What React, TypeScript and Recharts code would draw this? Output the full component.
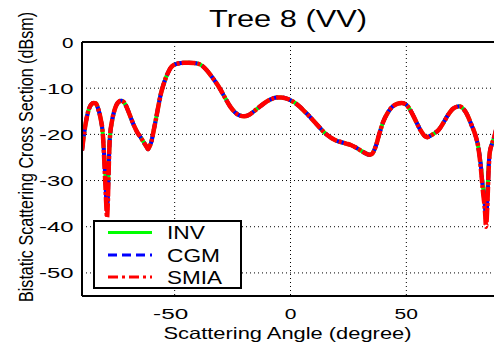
import React from 'react';
import { LineChart, Line, XAxis, YAxis, CartesianGrid, ReferenceLine, Legend } from 'recharts';

const FONT = '"Liberation Sans", Arial, Helvetica, sans-serif';

// Scattering angle samples (degree)
const angles = [
  -90, -89, -88, -87, -86, -85, -84, -83, -82, -81, -80.5, -80, -79.5, -79.2, -78.8, -78.5, -78,
  -77, -76, -75, -74, -73, -72, -71, -70, -69, -68, -67, -66, -65, -64, -63, -62, -61.5, -61,
  -60, -59, -58, -57, -56, -55, -54, -53, -52, -51, -50, -48, -46, -44, -42, -40, -38, -36, -34,
  -32, -30, -28, -26, -24, -22, -20, -18, -16, -14, -12, -10, -8, -6, -4, -2, 0, 2, 4, 6, 8, 10,
  12, 14, 16, 18, 20, 22, 24, 26, 28, 30, 32, 34, 35, 36, 37, 38, 39, 40, 42, 44, 46, 48, 50, 52,
  54, 56, 58, 59, 60, 62, 64, 66, 68, 70, 72, 73, 74, 76, 78, 80, 81, 82, 83, 84, 84.4, 85, 85.5,
  86, 87, 88, 89, 90,
];

// Bistatic scattering cross section (dBsm) per method
const invValues = [
  -23.5, -19.5, -16.5, -14.5, -13.5, -13.2, -13.3, -14.5, -16.5, -20, -24, -28, -33, -35, -32, -27, -21,
  -17, -14.8, -13.5, -12.9, -12.7, -13.0, -13.8, -15, -16.3, -17.6, -18.7, -19.7, -20.4, -21.2, -22, -22.8, -23.2, -22.8,
  -21.5, -19, -16.5, -13.8, -11.3, -9.5, -8, -6.8, -5.8, -5.2, -4.9, -4.6, -4.5, -4.5, -4.55, -4.7, -5.2, -6.2, -7.5,
  -8.9, -10.5, -12.3, -14.0, -15.2, -15.9, -16.1, -15.8, -15.1, -14.3, -13.5, -12.8, -12.3, -12.0, -12.0, -12.2, -12.6, -13.2, -14.0, -15.0, -16.0, -17.1,
  -18.2, -19.3, -20.2, -20.9, -21.4, -21.7, -22.0, -22.3, -22.8, -23.4, -24.0, -24.4, -24.3, -23.6, -22.3, -20.5, -18.8, -17.3, -15.3, -14.0, -13.4, -13.2, -13.6, -15.0,
  -17.0, -19.0, -20.4, -20.6, -20.4, -19.8, -19.0, -17.5, -15.8, -14.5, -14.0, -13.9, -14.2, -15.5, -17.8, -20.5, -22.6, -26, -31, -35, -37, -33, -27,
  -24, -22, -20.5, -18.5, -17,
];

const cgmValues = [
  -23.5, -19.5, -16.5, -14.5, -13.5, -13.2, -13.3, -14.5, -16.5, -20, -24, -29, -34.5, -36.5, -33, -27.5, -21,
  -17, -14.8, -13.5, -12.9, -12.7, -13.0, -13.8, -15, -16.3, -17.6, -18.7, -19.7, -20.4, -21.2, -22, -22.8, -23.2, -22.8,
  -21.5, -19, -16.5, -13.8, -11.3, -9.5, -8, -6.8, -5.8, -5.2, -4.9, -4.6, -4.5, -4.5, -4.55, -4.7, -5.2, -6.2, -7.5,
  -8.9, -10.5, -12.3, -14.0, -15.2, -15.9, -16.1, -15.8, -15.1, -14.3, -13.5, -12.8, -12.3, -12.0, -12.0, -12.2, -12.6, -13.2, -14.0, -15.0, -16.0, -17.1,
  -18.2, -19.3, -20.2, -20.9, -21.4, -21.7, -22.0, -22.3, -22.8, -23.4, -24.0, -24.4, -24.3, -23.6, -22.3, -20.5, -18.8, -17.3, -15.3, -14.0, -13.4, -13.2, -13.6, -15.0,
  -17.0, -19.0, -20.4, -20.6, -20.4, -19.8, -19.0, -17.5, -15.8, -14.5, -14.0, -13.9, -14.2, -15.5, -17.8, -20.5, -22.6, -26, -31.5, -36, -38.5, -34, -27.5,
  -24, -22, -20.5, -18.5, -17,
];

const smiaValues = [
  -23.5, -19.5, -16.5, -14.5, -13.5, -13.2, -13.3, -14.5, -16.5, -20, -24.5, -30, -35.5, -38, -34, -28, -21,
  -17, -14.8, -13.5, -12.9, -12.7, -13.0, -13.8, -15, -16.3, -17.6, -18.7, -19.7, -20.4, -21.2, -22, -22.8, -23.2, -22.8,
  -21.5, -19, -16.5, -13.8, -11.3, -9.5, -8, -6.8, -5.8, -5.2, -4.9, -4.6, -4.5, -4.5, -4.55, -4.7, -5.2, -6.2, -7.5,
  -8.9, -10.5, -12.3, -14.0, -15.2, -15.9, -16.1, -15.8, -15.1, -14.3, -13.5, -12.8, -12.3, -12.0, -12.0, -12.2, -12.6, -13.2, -14.0, -15.0, -16.0, -17.1,
  -18.2, -19.3, -20.2, -20.9, -21.4, -21.7, -22.0, -22.3, -22.8, -23.4, -24.0, -24.4, -24.3, -23.6, -22.3, -20.5, -18.8, -17.3, -15.3, -14.0, -13.4, -13.2, -13.6, -15.0,
  -17.0, -19.0, -20.4, -20.6, -20.4, -19.8, -19.0, -17.5, -15.8, -14.5, -14.0, -13.9, -14.2, -15.5, -17.8, -20.5, -22.6, -26.5, -32, -37, -40, -35, -28,
  -24, -22, -20.5, -18.5, -17,
];

const xTicks = [-50, 0, 50];
const yTicks = [0, -10, -20, -30, -40, -50];

const series = [
  { key: 'inv', name: 'INV', color: '#00ff00', width: 4, dash: undefined as string | undefined, legendDash: undefined as string | undefined },
  { key: 'cgm', name: 'CGM', color: '#0000ff', width: 4, dash: '9 5', legendDash: '9 5' },
  { key: 'smia', name: 'SMIA', color: '#ff0000', width: 4.5, dash: '14 2 3 2', legendDash: '10 4 3 4' },
];

const rows = angles.map((a, i) => ({
  angle: a,
  inv: invValues[i],
  cgm: cgmValues[i],
  smia: smiaValues[i],
}));

const XTick = (props: any) => {
  const { x, payload } = props;
  const label = String(payload.value);
  const shift = payload.value < 0 ? -4 : 0;
  return (
    <text
      x={x + shift}
      y={318.5}
      textAnchor="middle"
      fontFamily={FONT}
      fontSize={15.5}
      fill="#000"
      textLength={label.length * 11.7}
      lengthAdjust="spacingAndGlyphs"
    >
      {label}
    </text>
  );
};

const YTick = (props: any) => {
  const { y, payload } = props;
  const label = String(payload.value);
  return (
    <text
      x={73.5}
      y={y + 5.5}
      textAnchor="end"
      fontFamily={FONT}
      fontSize={15.5}
      fill="#000"
      textLength={label.length * 11.5}
      lengthAdjust="spacingAndGlyphs"
    >
      {label}
    </text>
  );
};

const XTitle = () => (
  <text
    x={163.5}
    y={339}
    fontFamily={FONT}
    fontSize={16.5}
    fill="#000"
    textLength={248}
    lengthAdjust="spacingAndGlyphs"
  >
    Scattering Angle (degree)
  </text>
);

const YTitle = () => (
  <text
    transform="translate(33,157) scale(1.3,1) rotate(-90)"
    textAnchor="middle"
    fontFamily={FONT}
    fontSize={16}
    fill="#000"
    textLength={290}
    lengthAdjust="spacingAndGlyphs"
  >
    Bistatic Scattering Cross Section (dBsm)
  </text>
);

const rowCenters = [12.5, 35, 57];
const legendTextWidths = [38, 53, 55];

const LegendBox = () => (
  <svg width={149} height={69} style={{ display: 'block' }}>
    <rect x={1} y={1} width={147} height={67} fill="#fff" stroke="#000" strokeWidth={2} />
    {series.map((s, i) => (
      <g key={s.key}>
        <line
          x1={15}
          x2={59}
          y1={rowCenters[i]}
          y2={rowCenters[i]}
          stroke={s.color}
          strokeWidth={3}
          strokeDasharray={s.legendDash}
        />
        <text
          x={74}
          y={rowCenters[i] + 6.5}
          fontFamily={FONT}
          fontSize={18}
          fill="#000"
          textLength={legendTextWidths[i]}
          lengthAdjust="spacingAndGlyphs"
        >
          {s.name}
        </text>
      </g>
    ))}
  </svg>
);

export default function App() {
  return (
    <div
      style={{
        position: 'absolute',
        left: 0,
        top: 0,
        width: 494,
        height: 347,
        overflow: 'hidden',
        background: '#fff',
      }}
    >
      <LineChart
        width={510}
        height={347}
        data={rows}
        margin={{ top: 42, right: 11, bottom: 21, left: 42 }}
      >
        <CartesianGrid stroke="#000" strokeDasharray="1 3" strokeWidth={1} />
        <XAxis
          dataKey="angle"
          type="number"
          domain={[-90, 90]}
          ticks={xTicks}
          allowDataOverflow
          height={30}
          tickLine={false}
          axisLine={{ stroke: '#000', strokeWidth: 2 }}
          tick={<XTick />}
          label={<XTitle />}
        />
        <YAxis
          type="number"
          domain={[-55, 0]}
          ticks={yTicks}
          allowDataOverflow
          width={40}
          tickLine={false}
          axisLine={{ stroke: '#000', strokeWidth: 2 }}
          tick={<YTick />}
          label={<YTitle />}
        />
        <ReferenceLine y={0} stroke="#000" strokeWidth={2} />
        {series.map((s) => (
          <Line
            key={s.key}
            dataKey={s.key}
            name={s.name}
            type="monotone"
            stroke={s.color}
            strokeWidth={s.width}
            strokeDasharray={s.dash}
            dot={false}
            isAnimationActive={false}
          />
        ))}
        <Legend
          layout="horizontal"
          verticalAlign="middle"
          align="center"
          content={<LegendBox />}
          wrapperStyle={{ left: 93, top: 220, width: 149, height: 69 }}
        />
      </LineChart>
      <svg
        width={494}
        height={40}
        style={{ position: 'absolute', left: 0, top: 0, pointerEvents: 'none' }}
      >
        <text
          x={209}
          y={27}
          fontFamily={FONT}
          fontSize={23}
          fill="#000"
          textLength={158}
          lengthAdjust="spacingAndGlyphs"
        >
          Tree 8 (VV)
        </text>
      </svg>
    </div>
  );
}
